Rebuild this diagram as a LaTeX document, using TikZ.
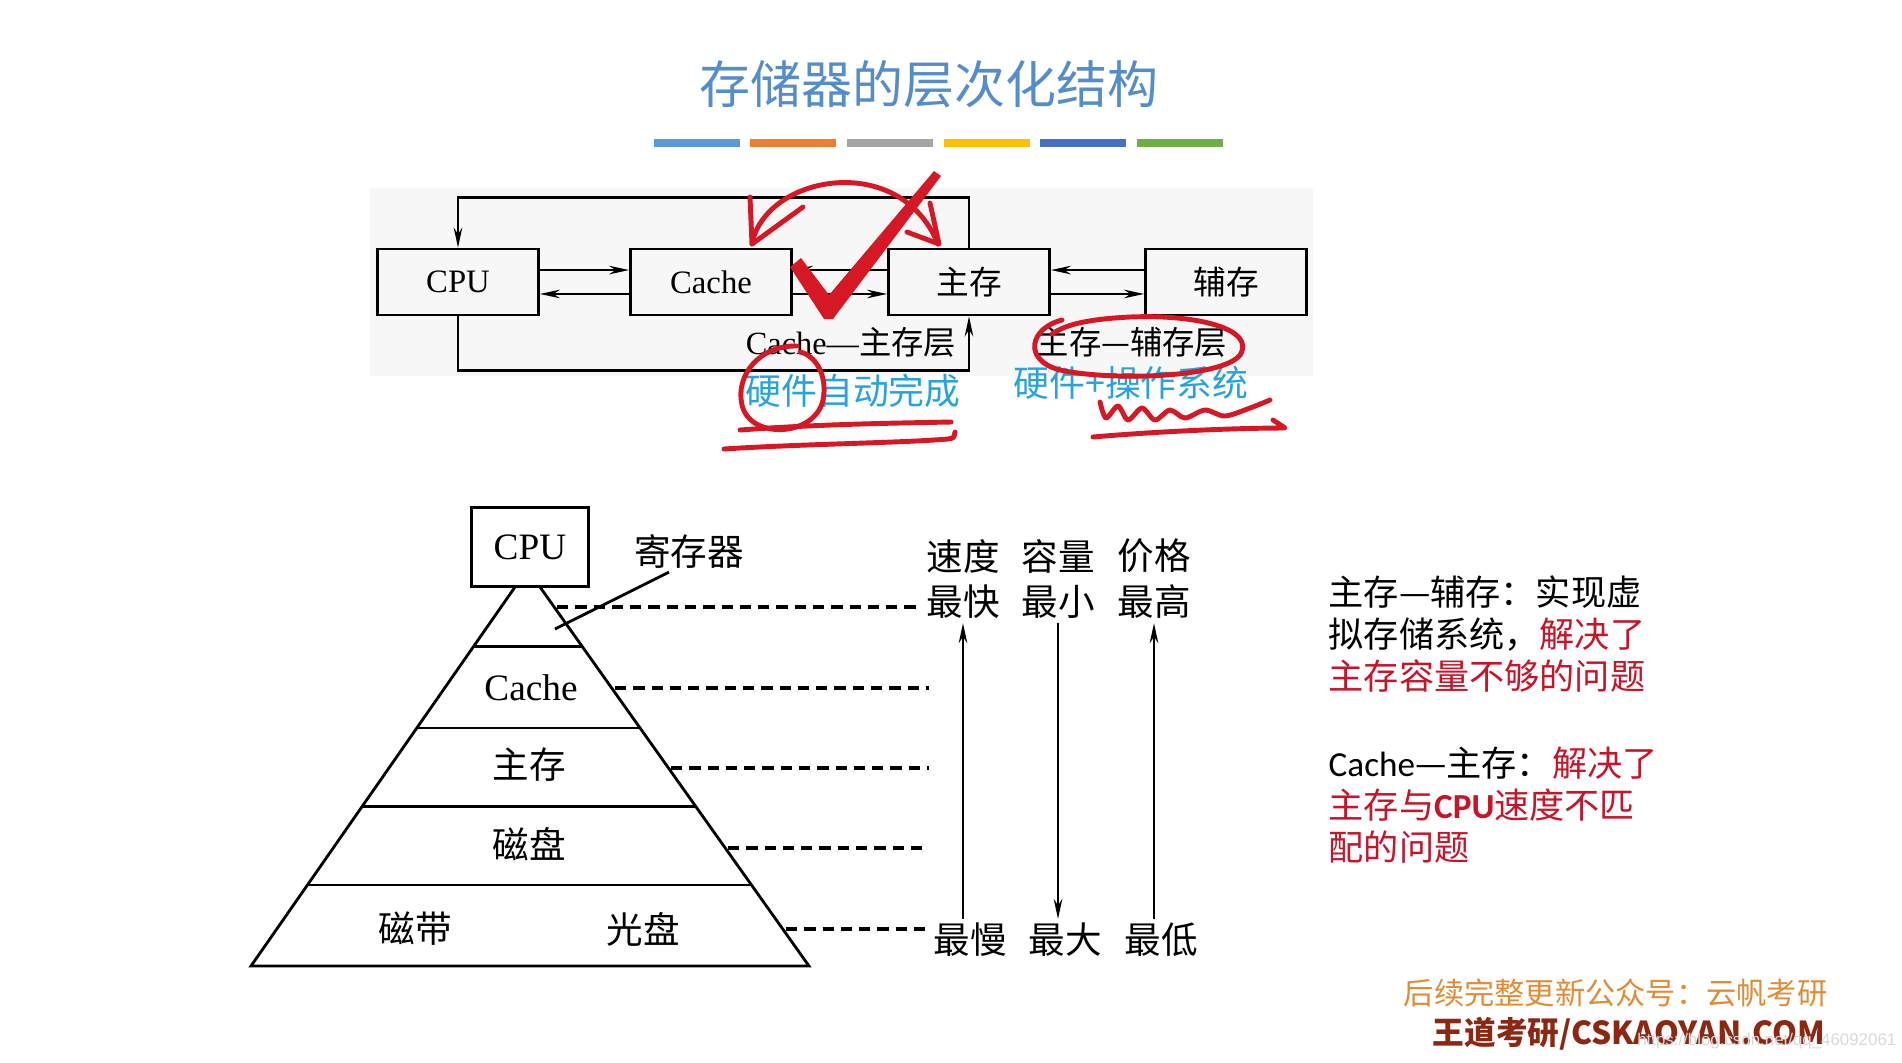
\documentclass[tikz,border=0pt]{standalone}
\usepackage{fontspec}
\setmainfont{Liberation Serif}
\newfontfamily\cjk{Noto Sans CJK SC}
\newfontfamily\latin{Carlito}
\newfontfamily\wmfont{Liberation Sans}
\usetikzlibrary{arrows.meta,calc}

\definecolor{titleblue}{RGB}{84,141,204}
\definecolor{barA}{RGB}{91,155,213}
\definecolor{barB}{RGB}{237,125,49}
\definecolor{barC}{RGB}{165,165,165}
\definecolor{barD}{RGB}{255,192,0}
\definecolor{barE}{RGB}{68,114,196}
\definecolor{barF}{RGB}{112,173,71}
\definecolor{penred}{RGB}{214,24,36}
\definecolor{handblue}{RGB}{38,163,222}
\definecolor{hl}{RGB}{200,20,40}
\definecolor{footorange}{RGB}{226,139,52}
\definecolor{footbrown}{RGB}{140,40,18}

\begin{document}
\begin{tikzpicture}[x=0.01cm, y=-0.01cm,
  blk/.style={draw, line width=0.75pt, minimum width=1.61cm, minimum height=0.66cm,
              inner sep=0pt, font=\fontsize{9.3}{11}\selectfont},
  lbl/.style={inner sep=1pt, font=\fontsize{9.2}{11}\selectfont},
  hand/.style={text=handblue, inner sep=1pt, font=\fontsize{10.2}{12}\selectfont\cjk},
  arr/.style={line width=0.75pt, -{Stealth[length=2mm,width=0.85mm]}},
  ln/.style={line width=0.8pt},
  dsh/.style={line width=0.9pt, dash pattern=on 3.2pt off 2pt},
  pen/.style={draw=penred, line width=1.4pt, line cap=round, line join=round},
  pyr/.style={inner sep=1pt, font=\fontsize{10.4}{12}\selectfont\cjk},
  note/.style={anchor=west, align=left, inner sep=0pt,
               font=\fontsize{10}{12}\selectfont\cjk}
]
\useasboundingbox (0,0) rectangle (1902,1062);
\fill[white] (0,0) rectangle (1902,1062);

% title and colour bars
\node[text=titleblue, font=\fontsize{14.5}{17}\selectfont\cjk] (title) at (929,84) {存储器的层次化结构};
\foreach \x/\c in {654/barA, 750/barB, 847/barC, 944/barD, 1040/barE, 1137/barF}
  \fill[\c] (\x,139) rectangle ++(86,8);

% two-level structure
\fill[black!3] (370,188) rectangle (1313,376);
\node[blk] (cpu)   at (458,282)  {CPU};
\node[blk] (cache) at (711,282)  {Cache};
\node[blk] (mem)   at (969,282)  {\cjk 主存};
\node[blk] (aux)   at (1226,282) {\cjk 辅存};

\draw[arr] ([yshift=3.4pt]cpu.east) -- ([yshift=3.4pt]cache.west);
\draw[arr] ([yshift=-3.4pt]cache.west) -- ([yshift=-3.4pt]cpu.east);
\draw[arr] ([yshift=3.4pt]mem.west) -- ([yshift=3.4pt]cache.east);
\draw[arr] ([yshift=-3.4pt]cache.east) -- ([yshift=-3.4pt]mem.west);
\draw[arr] ([yshift=3.4pt]aux.west) -- ([yshift=3.4pt]mem.east);
\draw[arr] ([yshift=-3.4pt]mem.east) -- ([yshift=-3.4pt]aux.west);
\draw[arr] (mem.north) -- ++(0,-50) -| (cpu.north);
\draw[arr] (cpu.south) -- ++(0,54) -| (mem.south);

\node[lbl] (cm) at (851,342) {Cache—{\cjk 主存层}};
\node[lbl] (ma) at (1132,342) {\cjk 主存—辅存层};
\node[hand] (hw) at (853,391) {硬件自动完成};
\node[hand] (os) at (1131,383) {硬件+操作系统};

% red pen marks
\fill[penred] (790,267) -- (801,258) -- (829,295) -- (934,171) -- (941,176) -- (833,319) -- (824,319) -- cycle;
\draw[pen] (752,244) .. controls (765,175) and (900,150) .. (938,244);
\draw[pen] (750,197) -- (752,244) -- (803,207);
\draw[pen] (930,203) -- (939,244) -- (907,232);
\draw[pen] (797,346) .. controls (760,345) and (735,375) .. (742,405)
           .. controls (750,440) and (815,437) .. (823,400)
           .. controls (828,375) and (815,355) .. (800,352);
\draw[pen] (1062,320) .. controls (1030,328) and (1022,360) .. (1060,370)
           .. controls (1110,381) and (1222,378) .. (1240,355)
           .. controls (1256,330) and (1200,314) .. (1130,317)
           .. controls (1090,319) and (1066,324) .. (1052,334);
\draw[pen] (740,430) .. controls (820,424) and (900,423) .. (951,422);
\draw[pen] (724,449) .. controls (800,444) and (900,443) .. (948,439) .. controls (954,438) .. (955,432);
\draw[pen] plot[smooth] coordinates {(1100,402) (1106,418) (1118,406) (1128,420) (1142,408)
           (1155,420) (1170,410) (1185,418) (1205,410) (1225,416) (1250,408) (1270,400)};
\draw[pen] (1093,437) .. controls (1150,432) and (1230,428) .. (1285,428) -- (1273,420);

% pyramid
\node[draw, line width=0.8pt, minimum width=1.17cm, minimum height=0.79cm, inner sep=0pt,
      font=\fontsize{10.6}{12}\selectfont] (pcpu) at (530,547) {CPU};
\coordinate (pl) at (515,587);
\coordinate (pr) at (540,587);
\coordinate (bl) at (251,966);
\coordinate (br) at (809,966);
\draw[ln] (pl) -- (bl) -- (br) -- (pr);
\foreach \t in {0.156,0.372,0.580,0.786}
  \draw[ln] ($(pl)!\t!(bl)$) -- ($(pr)!\t!(br)$);

\node[pyr] (reg) at (689,551) {寄存器};
\coordinate (regpt) at (555,629);
\draw[ln] ([xshift=-0.2cm]reg.south) -- (regpt);

\node[inner sep=1pt, font=\fontsize{10.6}{12}\selectfont] (pcache) at (531,688) {Cache};
\node[pyr] (pmem)  at (529,765) {主存};
\node[pyr] (pdisk) at (529,844) {磁盘};
\node[pyr] (ptape) at (415,929) {磁带};
\node[pyr] (pcd)   at (643,929) {光盘};

\foreach \a/\y/\b in {557/607/922, 615/688/929, 671/768/929, 728/848/925, 786/929/932}
  \draw[dsh] (\a,\y) -- (\b,\y);

\node[pyr] (speed) at (963,556)  {速度};
\node[pyr] (fast)  at (963,602)  {最快};
\node[pyr] (cap)   at (1058,556) {容量};
\node[pyr] (small) at (1058,602) {最小};
\node[pyr] (price) at (1154,556) {价格};
\node[pyr] (high)  at (1154,602) {最高};
\node[pyr] (slow)  at (970,940)  {最慢};
\node[pyr] (big)   at (1065,940) {最大};
\node[pyr] (low)   at (1161,940) {最低};

\draw[arr] (fast.south |- slow.north) -- (fast.south);
\draw[arr] (small.south) -- (small.south |- big.north);
\draw[arr] (high.south |- low.north) -- (high.south);

% notes
\node[note] (n1) at (1328,634) {主存—辅存：实现虚\\拟存储系统，\textcolor{hl}{解决了}\\\textcolor{hl}{主存容量不够的问题}};
\node[note] (n2) at (1328,805) {{\latin Cache}—主存：\textcolor{hl}{解决了}\\\textcolor{hl}{主存与{\latin\bfseries CPU}速度不匹}\\\textcolor{hl}{配的问题}};

% footer
\node[anchor=east, inner sep=0pt, text=footorange, font=\fontsize{8.6}{10}\selectfont\cjk] (f1) at (1828,993) {后续完整更新公众号：云帆考研};
\node[anchor=east, inner sep=0pt, text=footbrown, font=\fontsize{9}{11}\selectfont\cjk\bfseries] (f2) at (1826,1034) {王道考研/CSKAOYAN.COM};
\node[anchor=east, inner sep=0pt, text=black!15, font=\fontsize{4.8}{6}\selectfont\wmfont] (wm) at (1897,1041) {https://blog.csdn.net/qq\_46092061};
\end{tikzpicture}
\end{document}
